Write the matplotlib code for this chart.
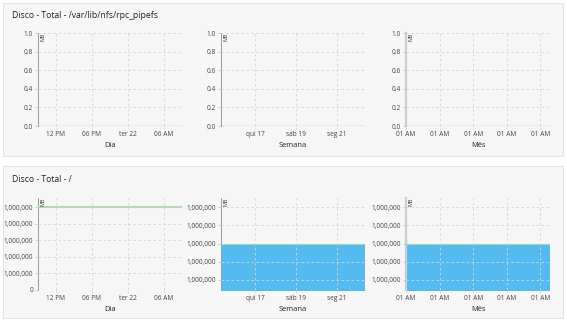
import matplotlib
matplotlib.use('Agg')
import matplotlib.pyplot as plt
from matplotlib.patches import Rectangle

plt.rcParams['font.family'] = ['Open Sans', 'DejaVu Sans']

# panel titles
titles = ['Disco - Total - /var/lib/nfs/rpc_pipefs', 'Disco - Total - /']
period_names = ['Dia', 'Semana', 'Mês']

# x axes: day in hours, week in days, month in days
x_span = [24, 7, 30]
x_ticks = [[3, 9, 15, 21], [1.65, 3.65, 5.65], [0, 7, 14, 21, 28]]
x_labels = [['12 PM', '06 PM', 'ter 22', '06 AM'],
            ['qui 17', 'sáb 19', 'seg 21'],
            ['01 AM'] * 5]

# top panel (rpc_pipefs) - everything at zero
top_ticks = [0.0, 0.2, 0.4, 0.6, 0.8, 1.0]
top_labels = ['0.0', '0.2', '0.4', '0.6', '0.8', '1.0']
top_values = [0, 0]

# bottom panel (/) - tick units, labels as shown on chart
day_ticks = [0, 1, 2, 3, 4, 5]
day_labels = ['0', '1,000,000', '1,000,000', '1,000,000', '1,000,000', '1,000,000']
day_values = [5, 5]
wm_ticks = [1, 2, 3, 4, 5]
wm_labels = ['1,000,000'] * 5
week_values = [3, 3]
month_values = [3, 3]

W, H = 567, 323
fig = plt.figure(figsize=(W / 100, H / 100), dpi=100)
fig.patch.set_facecolor('white')


def px(x0, y0, x1, y1):
    return [x0 / W, 1 - y1 / H, (x1 - x0) / W, (y1 - y0) / H]


# the two boxes
for (y0, y1) in [(3, 156), (166, 318)]:
    fig.patches.append(Rectangle((3 / W, 1 - y1 / H), 560 / W, (y1 - y0) / H,
                                 transform=fig.transFigure, facecolor='#f6f6f6',
                                 edgecolor='#dfe4e4', lw=0.8, zorder=-5))
fig.text(12 / W, 1 - 15 / H, titles[0], fontsize=6.2, color='#222222', va='center')
fig.text(12 / W, 1 - 179 / H, titles[1], fontsize=6.2, color='#222222', va='center')

lefts = [38, 221, 406]
grid_c = '#d0d8d8'


def style(ax, i):
    ax.set_facecolor('none')
    for s in ['top', 'right', 'bottom']:
        ax.spines[s].set_visible(False)
    if i == 2:
        ax.spines['left'].set_color('#c9cad8')
        ax.spines['left'].set_linewidth(1.6)
    else:
        ax.spines['left'].set_color('#9a9a9a')
        ax.spines['left'].set_linewidth(0.7)
    ax.set_xlim(0, x_span[i])
    ax.set_xticks(x_ticks[i])
    ax.set_xticklabels(x_labels[i])
    ax.tick_params(axis='both', labelsize=4.7, colors='#444444', length=2,
                   width=0.5, pad=1.5)
    ax.tick_params(axis='x', color=grid_c)
    ax.tick_params(axis='y', color='#bbbbbb')
    ax.grid(True, color=grid_c, lw=0.6, ls=(0, (3, 3)))
    ax.set_axisbelow(False)
    ax.set_xlabel(period_names[i], fontsize=5.4, color='#222222', labelpad=3)
    ax.text(0.015, 1.0, 'MB', rotation=90, transform=ax.transAxes, va='top',
            ha='left', fontsize=4, color='#444444')


# top row
for i in range(3):
    ax = fig.add_axes(px(lefts[i], 33, lefts[i] + 144, 126))
    ax.plot([0, x_span[i]], top_values, color='#9fcf9a', lw=1, zorder=3)
    ax.set_ylim(0, 1.0)
    ax.set_yticks(top_ticks)
    ax.set_yticklabels(top_labels)
    style(ax, i)

# bottom row
ax = fig.add_axes(px(lefts[0], 198, lefts[0] + 144, 290))
ax.plot([0, x_span[0]], day_values, color='#b3dab0', lw=1.5, zorder=3)
ax.set_ylim(0, 5.55)
ax.set_yticks(day_ticks)
ax.set_yticklabels(day_labels)
style(ax, 0)

for i, vals in [(1, week_values), (2, month_values)]:
    ax = fig.add_axes(px(lefts[i], 198, lefts[i] + 144, 290))
    ax.fill_between([0, x_span[i]], vals, 0, color='#55baf0', lw=0, zorder=1)
    ax.plot([0, x_span[i]], vals, color='#a6d9a0', lw=0.8, zorder=3)
    ax.set_ylim(0.45, 5.5)
    ax.set_yticks(wm_ticks)
    ax.set_yticklabels(wm_labels)
    style(ax, i)

fig.savefig('out.png', dpi=100)
